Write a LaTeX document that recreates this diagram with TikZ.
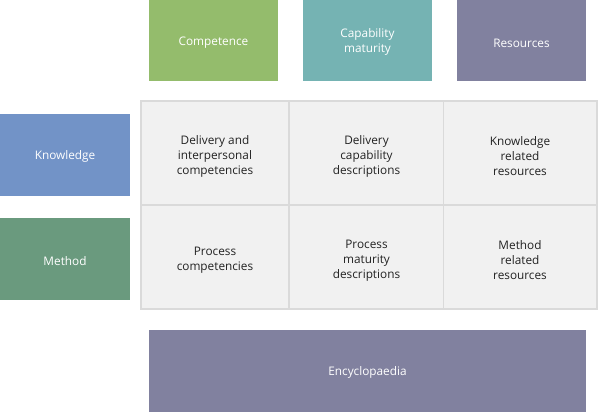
\documentclass[tikz,border=0pt]{standalone}
\usepackage{fontspec}
\setmainfont{Open Sans}
\definecolor{cgreen}{HTML}{94BC6C}
\definecolor{cteal}{HTML}{75B3B3}
\definecolor{cpurple}{HTML}{81819F}
\definecolor{cblue}{HTML}{7293C7}
\definecolor{cmoss}{HTML}{6A9A7E}
\definecolor{cellfill}{HTML}{F1F1F1}
\definecolor{cellline}{HTML}{DADADA}
\definecolor{ctext}{HTML}{222222}
\begin{document}
\begin{tikzpicture}[x=1pt,y=-1pt,
  hdr/.style={text=white,font=\fontsize{11.8}{14.5}\selectfont,align=center,inner sep=0pt},
  cell/.style={fill=cellfill,draw=cellline,line width=1.6pt},
  celltext/.style={text=ctext,font=\fontsize{11.8}{15}\selectfont,align=center,inner sep=0pt}]
\useasboundingbox (0,0) rectangle (598,412);
% column headers
\fill[cgreen] (149,0) rectangle (278,81);
\node[hdr] (competence) at (213.5,43) {Competence};
\fill[cteal] (303,0) rectangle (432,81);
\node[hdr] (capability) at (367.5,42) {Capability\\maturity};
\fill[cpurple] (457,0) rectangle (586,81);
\node[hdr] (resources) at (521.5,43) {Resources};
% row headers
\fill[cblue] (0,114) rectangle (130,196);
\node[hdr] (knowledge) at (65,156.5) {Knowledge};
\fill[cmoss] (0,218) rectangle (130,300);
\node[hdr] (method) at (65,261) {Method};
% grid
\draw[cell] (140.8,100.8) rectangle (289,205);
\draw[cell] (289,100.8) rectangle (443.5,205);
\draw[cell] (443.5,100.8) rectangle (597,205);
\draw[cell] (140.8,205) rectangle (289,309);
\draw[cell] (289,205) rectangle (443.5,309);
\draw[cell] (443.5,205) rectangle (597,309);
\node[celltext] (c11) at (215,156.5) {Delivery and\\interpersonal\\competencies};
\node[celltext] (c12) at (366.5,156.5) {Delivery\\capability\\descriptions};
\node[celltext] (c13) at (520,156) {Knowledge\\related\\resources};
\node[celltext] (c21) at (215,260.5) {Process\\competencies};
\node[celltext] (c22) at (366.5,260.5) {Process\\maturity\\descriptions};
\node[celltext] (c23) at (520,260) {Method\\related\\resources};
% bottom
\fill[cpurple] (149,330) rectangle (586,412);
\node[hdr] (encyclopaedia) at (367.5,372) {Encyclopaedia};
\end{tikzpicture}
\end{document}
